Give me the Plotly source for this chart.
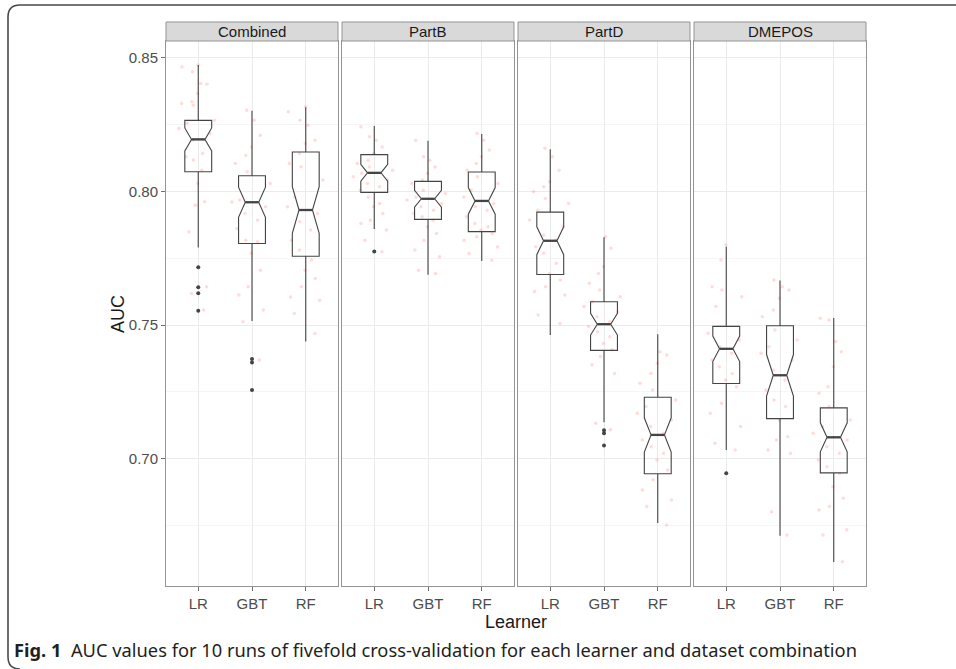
import math
import plotly.graph_objects as go

W, H = 956, 669

datasets = ["Combined", "PartB", "PartD", "DMEPOS"]
learners = ["LR", "GBT", "RF"]
y_ticks = [0.70, 0.75, 0.80, 0.85]
y_minor = [0.675, 0.725, 0.775, 0.825]
runs_per_box = 50  # 10 runs x 5 folds

# ---- box statistics (order: LR, GBT, RF) ----
combined_lower = [0.7790, 0.7515, 0.7438]
combined_q1 = [0.8073, 0.7805, 0.7757]
combined_median = [0.8194, 0.7959, 0.7930]
combined_q3 = [0.8265, 0.8058, 0.8147]
combined_upper = [0.8472, 0.8301, 0.8314]

partb_lower = [0.7859, 0.7688, 0.7739]
partb_q1 = [0.7996, 0.7895, 0.7849]
partb_median = [0.8069, 0.7972, 0.7964]
partb_q3 = [0.8137, 0.8037, 0.8072]
partb_upper = [0.8244, 0.8189, 0.8214]

partd_lower = [0.7463, 0.7136, 0.6760]
partd_q1 = [0.7689, 0.7405, 0.6944]
partd_median = [0.7815, 0.7503, 0.7089]
partd_q3 = [0.7922, 0.7587, 0.7230]
partd_upper = [0.8157, 0.7828, 0.7465]

dmepos_lower = [0.7033, 0.6712, 0.6614]
dmepos_q1 = [0.7281, 0.7150, 0.6947]
dmepos_median = [0.7411, 0.7312, 0.7080]
dmepos_q3 = [0.7495, 0.7497, 0.7190]
dmepos_upper = [0.7793, 0.7666, 0.7526]

# ---- outliers ----
combined_out_lr = [0.7716, 0.7641, 0.7619, 0.7553]
combined_out_gbt = [0.7373, 0.7360, 0.7257]
combined_out_rf = []
partb_out_lr = [0.7775]
partb_out_gbt = []
partb_out_rf = []
partd_out_lr = []
partd_out_gbt = [0.7106, 0.7095, 0.7049]
partd_out_rf = []
dmepos_out_lr = [0.6946]
dmepos_out_gbt = []
dmepos_out_rf = []

# ---- jittered individual AUC values (estimated, visible points) ----
combined_pts_lr = [0.8472, 0.8465, 0.8447, 0.8403, 0.8400, 0.8366, 0.8335, 0.8328, 0.8322,
                   0.8266, 0.8254, 0.8235, 0.8216, 0.8191, 0.8141, 0.8129, 0.8117, 0.8079,
                   0.8029, 0.7961, 0.7948, 0.7849, 0.7643, 0.7618, 0.7556]
combined_pts_gbt = [0.8303, 0.8266, 0.8210, 0.8166, 0.8135, 0.8104, 0.8073, 0.8029, 0.7967,
                    0.7960, 0.7942, 0.7917, 0.7892, 0.7861, 0.7817, 0.7811, 0.7768, 0.7705,
                    0.7643, 0.7612, 0.7556, 0.7512, 0.7369]
combined_pts_rf = [0.8316, 0.8297, 0.8266, 0.8247, 0.8191, 0.8179, 0.8141, 0.8104, 0.8092,
                   0.8042, 0.7979, 0.7942, 0.7917, 0.7886, 0.7855, 0.7817, 0.7780, 0.7743,
                   0.7705, 0.7674, 0.7643, 0.7605, 0.7593, 0.7543, 0.7468]
partb_pts_lr = [0.8241, 0.8204, 0.8191, 0.8166, 0.8141, 0.8116, 0.8104, 0.8091, 0.8079,
                0.8067, 0.8054, 0.8042, 0.8029, 0.8017, 0.8004, 0.7979, 0.7954, 0.7942,
                0.7917, 0.7892, 0.7880, 0.7855, 0.7817, 0.7774]
partb_pts_gbt = [0.8191, 0.8129, 0.8116, 0.8091, 0.8067, 0.8042, 0.8029, 0.8004, 0.7992,
                 0.7979, 0.7967, 0.7954, 0.7942, 0.7929, 0.7917, 0.7905, 0.7892, 0.7867,
                 0.7842, 0.7817, 0.7780, 0.7755, 0.7705, 0.7693]
partb_pts_rf = [0.8216, 0.8191, 0.8154, 0.8129, 0.8104, 0.8079, 0.8054, 0.8029, 0.8004,
                0.7979, 0.7954, 0.7942, 0.7929, 0.7905, 0.7880, 0.7867, 0.7855, 0.7842,
                0.7830, 0.7817, 0.7792, 0.7767, 0.7742]
partd_pts_lr = [0.8161, 0.8129, 0.8079, 0.8036, 0.8017, 0.7998, 0.7973, 0.7955, 0.7930,
                0.7893, 0.7868, 0.7836, 0.7818, 0.7793, 0.7768, 0.7731, 0.7693, 0.7668,
                0.7643, 0.7625, 0.7612, 0.7537, 0.7506]
partd_pts_gbt = [0.7830, 0.7787, 0.7718, 0.7693, 0.7656, 0.7631, 0.7606, 0.7587, 0.7569,
                 0.7550, 0.7531, 0.7512, 0.7494, 0.7475, 0.7456, 0.7431, 0.7407, 0.7382,
                 0.7351, 0.7319, 0.7133, 0.7108]
partd_pts_rf = [0.7400, 0.7388, 0.7357, 0.7319, 0.7282, 0.7257, 0.7220, 0.7195, 0.7170,
                0.7145, 0.7120, 0.7095, 0.7070, 0.7045, 0.7020, 0.6995, 0.6958, 0.6921,
                0.6883, 0.6846, 0.6821, 0.6752]
dmepos_pts_lr = [0.7799, 0.7743, 0.7643, 0.7631, 0.7606, 0.7569, 0.7469, 0.7444, 0.7419,
                 0.7394, 0.7369, 0.7344, 0.7319, 0.7294, 0.7269, 0.7207, 0.7170, 0.7120,
                 0.7058, 0.7033]
dmepos_pts_gbt = [0.7668, 0.7643, 0.7631, 0.7600, 0.7556, 0.7531, 0.7481, 0.7444, 0.7419,
                  0.7394, 0.7369, 0.7332, 0.7294, 0.7257, 0.7220, 0.7195, 0.7145, 0.7082,
                  0.7070, 0.7033, 0.7020, 0.6802, 0.6715]
dmepos_pts_rf = [0.7525, 0.7519, 0.7438, 0.7400, 0.7344, 0.7269, 0.7245, 0.7195, 0.7145,
                 0.7120, 0.7095, 0.7070, 0.7045, 0.7020, 0.6995, 0.6970, 0.6945, 0.6895,
                 0.6852, 0.6821, 0.6808, 0.6734, 0.6715, 0.6615]

stats = [
    (combined_lower, combined_q1, combined_median, combined_q3, combined_upper),
    (partb_lower, partb_q1, partb_median, partb_q3, partb_upper),
    (partd_lower, partd_q1, partd_median, partd_q3, partd_upper),
    (dmepos_lower, dmepos_q1, dmepos_median, dmepos_q3, dmepos_upper),
]
outliers = [
    (combined_out_lr, combined_out_gbt, combined_out_rf),
    (partb_out_lr, partb_out_gbt, partb_out_rf),
    (partd_out_lr, partd_out_gbt, partd_out_rf),
    (dmepos_out_lr, dmepos_out_gbt, dmepos_out_rf),
]
points = [
    (combined_pts_lr, combined_pts_gbt, combined_pts_rf),
    (partb_pts_lr, partb_pts_gbt, partb_pts_rf),
    (partd_pts_lr, partd_pts_gbt, partd_pts_rf),
    (dmepos_pts_lr, dmepos_pts_gbt, dmepos_pts_rf),
]

# ---- layout geometry (pixels) ----
panel_left = [166, 342, 518, 694]
panel_w = 172
panel_top, panel_bot = 41, 586
strip_top = 22
y_range = [0.6524, 0.8562]
box_width = 0.5
notch_width = 0.25

def px(x):
    return x / W

def py(y):
    return 1 - y / H

SANS = "Liberation Sans, Arial, sans-serif"
TICK_FONT = dict(family=SANS, size=15, color="#4d4d4d")
BORDER = "#949494"
PINK = "rgba(248,118,109,0.25)"
BOXLINE = "#444444"

fig = go.Figure()
shapes = []
annotations = []

for i, name in enumerate(datasets):
    sfx = "" if i == 0 else str(i + 1)
    xref, yref = "x" + sfx, "y" + sfx

    # jittered points (invisible box, only sample points shown)
    for j, lr in enumerate(learners):
        vals = points[i][j]
        fig.add_trace(go.Box(
            x=[lr] * len(vals), y=vals, xaxis=xref, yaxis=yref,
            boxpoints="all", jitter=1.0, pointpos=0, width=0.8,
            line=dict(width=0, color="rgba(0,0,0,0)"), fillcolor="rgba(0,0,0,0)",
            marker=dict(color=PINK, size=3.5),
            whiskerwidth=0, showlegend=False, hoverinfo="skip",
        ))

    lo, q1, med, q3, up = stats[i]
    notch = [1.58 * (b - a) / math.sqrt(runs_per_box) for a, b in zip(q1, q3)]
    fig.add_trace(go.Box(
        x=learners, q1=q1, median=med, q3=q3, lowerfence=lo, upperfence=up,
        notched=True, notchspan=notch, notchwidth=notch_width, width=box_width,
        boxpoints=False, whiskerwidth=0,
        line=dict(color=BOXLINE, width=1.1), fillcolor="rgba(255,255,255,0)",
        xaxis=xref, yaxis=yref, showlegend=False,
    ))

    # thicker median segment (ggplot 'fatten')
    half = box_width / 2 * (1 - 2 * notch_width)
    for j, m in enumerate(med):
        shapes.append(dict(type="line", xref=xref, yref=yref,
                           x0=j - half, x1=j + half, y0=m, y1=m,
                           line=dict(color=BOXLINE, width=2.3)))

    ox, oy = [], []
    for j, lr in enumerate(learners):
        ox += [lr] * len(outliers[i][j])
        oy += outliers[i][j]
    if oy:
        fig.add_trace(go.Scatter(
            x=ox, y=oy, mode="markers", xaxis=xref, yaxis=yref,
            marker=dict(color="#444444", size=4), showlegend=False,
        ))

    x0, x1 = panel_left[i], panel_left[i] + panel_w
    fig.layout["xaxis" + sfx] = dict(
        domain=[px(x0), px(x1)], anchor=yref, type="category",
        categoryorder="array", categoryarray=learners, range=[-0.6, 2.6],
        showgrid=True, gridcolor="#ebebeb", gridwidth=1,
        showline=True, mirror=True, linecolor=BORDER, linewidth=1,
        ticks="outside", ticklen=4, tickcolor="#6e6e6e", tickfont=TICK_FONT,
        zeroline=False, automargin=False, fixedrange=True,
    )
    fig.layout["yaxis" + sfx] = dict(
        domain=[py(panel_bot), py(panel_top)], anchor=xref,
        range=y_range, tickvals=y_ticks, tickformat=".2f",
        showgrid=True, gridcolor="#ebebeb", gridwidth=1,
        minor=dict(tickvals=y_minor, showgrid=True, gridcolor="#f5f5f5", ticks=""),
        showline=True, mirror=True, linecolor=BORDER, linewidth=1,
        ticks="outside" if i == 0 else "", ticklen=4, tickcolor="#6e6e6e",
        showticklabels=(i == 0), tickfont=TICK_FONT,
        zeroline=False, automargin=False, fixedrange=True,
        **({} if i == 0 else {"matches": "y"}),
    )

    # facet strip
    shapes.append(dict(type="rect", xref="paper", yref="paper",
                       x0=px(x0), x1=px(x1), y0=py(panel_top), y1=py(strip_top),
                       fillcolor="#d9d9d9", line=dict(color=BORDER, width=1)))
    annotations.append(dict(text=name, xref="paper", yref="paper",
                            x=px((x0 + x1) / 2), y=py((panel_top + strip_top) / 2),
                            xanchor="center", yanchor="middle", showarrow=False,
                            font=dict(family=SANS, size=15, color="#1a1a1a")))

# axis titles
annotations.append(dict(text="Learner", xref="paper", yref="paper",
                        x=px(516), y=py(622), xanchor="center", yanchor="middle",
                        showarrow=False, font=dict(family=SANS, size=18, color="#1a1a1a")))
annotations.append(dict(text="AUC", xref="paper", yref="paper", textangle=-90,
                        x=px(118), y=py(314), xanchor="center", yanchor="middle",
                        showarrow=False, font=dict(family=SANS, size=18, color="#1a1a1a")))
# caption
annotations.append(dict(text="<b>Fig. 1</b>\u00a0\u00a0AUC values for 10 runs of fivefold cross-validation for each learner and dataset combination",
                        xref="paper", yref="paper", x=px(12), y=py(649),
                        xanchor="left", yanchor="middle", showarrow=False,
                        font=dict(family="Noto Sans, Open Sans, sans-serif", size=18.3, color="#231f20")))

# rounded frame (top and left edge)
r = 12
fx, fy = 8, 5
frame_path = (f"M {px(fx + r)},{py(669)} Q {px(fx)},{py(669)} {px(fx)},{py(669 - r)} "
              f"L {px(fx)},{py(fy + r)} Q {px(fx)},{py(fy)} {px(fx + r)},{py(fy)} L {px(W)},{py(fy)}")
shapes.append(dict(type="path", xref="paper", yref="paper", path=frame_path,
                   line=dict(color="#4a4a4a", width=1.6)))

fig.update_layout(
    width=W, height=H, margin=dict(l=0, r=0, t=0, b=0),
    paper_bgcolor="white", plot_bgcolor="white",
    boxmode="overlay", showlegend=False,
    shapes=shapes, annotations=annotations,
)

fig.write_html("out.html", config={"displayModeBar": False},
               post_script="document.body.style.margin='0';")
